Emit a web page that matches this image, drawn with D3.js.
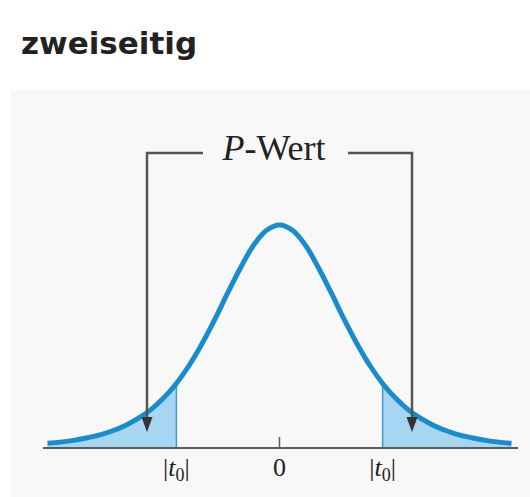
<!DOCTYPE html>
<html>
<head>
<meta charset="utf-8">
<script src="https://cdn.jsdelivr.net/npm/d3@7"></script>
<style>
  html, body { margin: 0; padding: 0; background: #ffffff; }
  svg { display: block; }
</style>
</head>
<body>
<svg id="chart" width="530" height="497"></svg>
<script>
// t grid and the density of the test statistic at each grid point
const tValues = [-3.6, -3.4, -3.2, -3.0, -2.8, -2.6, -2.4, -2.2, -2.0, -1.8, -1.6, -1.4, -1.2, -1.0, -0.8, -0.6, -0.4, -0.2,
  0, 0.2, 0.4, 0.6, 0.8, 1.0, 1.2, 1.4, 1.6, 1.8, 2.0, 2.2, 2.4, 2.6, 2.8, 3.0, 3.2, 3.4, 3.6];
const density = [0.008, 0.010, 0.013, 0.017, 0.022, 0.029, 0.038, 0.050, 0.065, 0.085, 0.110, 0.141, 0.178, 0.220, 0.265, 0.308, 0.346, 0.371,
  0.380, 0.371, 0.346, 0.308, 0.265, 0.220, 0.178, 0.141, 0.110, 0.085, 0.065, 0.050, 0.038, 0.029, 0.022, 0.017, 0.013, 0.010, 0.008];

// critical value |t0| and the axis labels
const tCritical = 1.6;
const tickValues = [-tCritical, 0, tCritical];
const tickLabels = ["|t0|", "0", "|t0|"];

const title = "zweiseitig";
const bracketLabel = "P-Wert";

const svg = d3.select("#chart");

// grey panel behind the graphic
svg.append("rect")
  .attr("x", 11).attr("y", 90)
  .attr("width", 519).attr("height", 407)
  .attr("fill", "#f8f8f8");

svg.append("text")
  .attr("x", 21).attr("y", 54)
  .attr("font-family", "DejaVu Sans, sans-serif")
  .attr("font-weight", "bold")
  .attr("font-size", 31)
  .attr("fill", "#222")
  .text(title);

const points = tValues.map((t, i) => ({ t, d: density[i] }));

const x = d3.scaleLinear().domain([-3.6, 3.6]).range([47.5, 511.5]);
const y = d3.scaleLinear().domain([0, 0.38]).range([448, 225]);

const line = d3.line().x(p => x(p.t)).y(p => y(p.d)).curve(d3.curveCatmullRom);
const area = d3.area().x(p => x(p.t)).y0(y(0)).y1(p => y(p.d)).curve(d3.curveCatmullRom);

const leftTail = points.filter(p => p.t <= -tCritical + 1e-9);
const rightTail = points.filter(p => p.t >= tCritical - 1e-9);

// shaded rejection areas
[leftTail, rightTail].forEach(tail => {
  svg.append("path")
    .attr("d", area(tail))
    .attr("fill", "#a6d6f1");
});

// edges of the shaded areas at ±|t0|
[-tCritical, tCritical].forEach(t => {
  const p = points.find(q => Math.abs(q.t - t) < 1e-9);
  svg.append("line")
    .attr("x1", x(t)).attr("x2", x(t))
    .attr("y1", y(0)).attr("y2", y(p.d))
    .attr("stroke", "#3a9bd0")
    .attr("stroke-width", 1.5);
});

// horizontal axis with a single tick at 0
const axisY = y(0);
svg.append("line")
  .attr("x1", 43).attr("x2", 518)
  .attr("y1", axisY).attr("y2", axisY)
  .attr("stroke", "#5c5c5c")
  .attr("stroke-width", 2);
svg.append("line")
  .attr("x1", x(0)).attr("x2", x(0))
  .attr("y1", axisY).attr("y2", axisY - 11)
  .attr("stroke", "#5c5c5c")
  .attr("stroke-width", 1.5);

// density curve
svg.append("path")
  .attr("d", line(points))
  .attr("fill", "none")
  .attr("stroke", "#1a8ccb")
  .attr("stroke-width", 5)
  .attr("stroke-linecap", "butt");

// axis labels
const labelFont = "Liberation Serif, Times New Roman, serif";
tickValues.forEach((t, i) => {
  const lab = svg.append("text")
    .attr("x", x(t)).attr("y", 476)
    .attr("text-anchor", "middle")
    .attr("font-family", labelFont)
    .attr("font-size", 26)
    .attr("fill", "#222");
  const s = tickLabels[i];
  if (s === "0") {
    lab.text(s);
  } else {
    lab.append("tspan").text("|");
    lab.append("tspan").attr("font-style", "italic").text("t");
    lab.append("tspan").attr("font-size", 18).attr("dy", 5).text("0");
    lab.append("tspan").attr("dy", -5).text("|");
  }
});

// bracket with arrows pointing into both tails
const bracketY = 153;
const armL = 147, armR = 412, arrowTip = 432;
const textGapL = 203, textGapR = 348;
const bracketColor = "#555";
const bracket = svg.append("g")
  .attr("fill", "none")
  .attr("stroke", bracketColor)
  .attr("stroke-width", 2.5);
bracket.append("path").attr("d", `M${armL},${arrowTip - 12}V${bracketY}H${textGapL}`);
bracket.append("path").attr("d", `M${textGapR},${bracketY}H${armR}V${arrowTip - 12}`);

[armL, armR].forEach(ax => {
  svg.append("path")
    .attr("d", `M${ax - 5.5},${arrowTip - 15}L${ax + 5.5},${arrowTip - 15}L${ax},${arrowTip}Z`)
    .attr("fill", "#333");
});

const pw = svg.append("text")
  .attr("x", 274).attr("y", 160)
  .attr("text-anchor", "middle")
  .attr("font-family", labelFont)
  .attr("font-size", 36)
  .attr("fill", "#222");
pw.append("tspan").attr("font-style", "italic").text(bracketLabel.slice(0, 1));
pw.append("tspan").text(bracketLabel.slice(1));
</script>
</body>
</html>
